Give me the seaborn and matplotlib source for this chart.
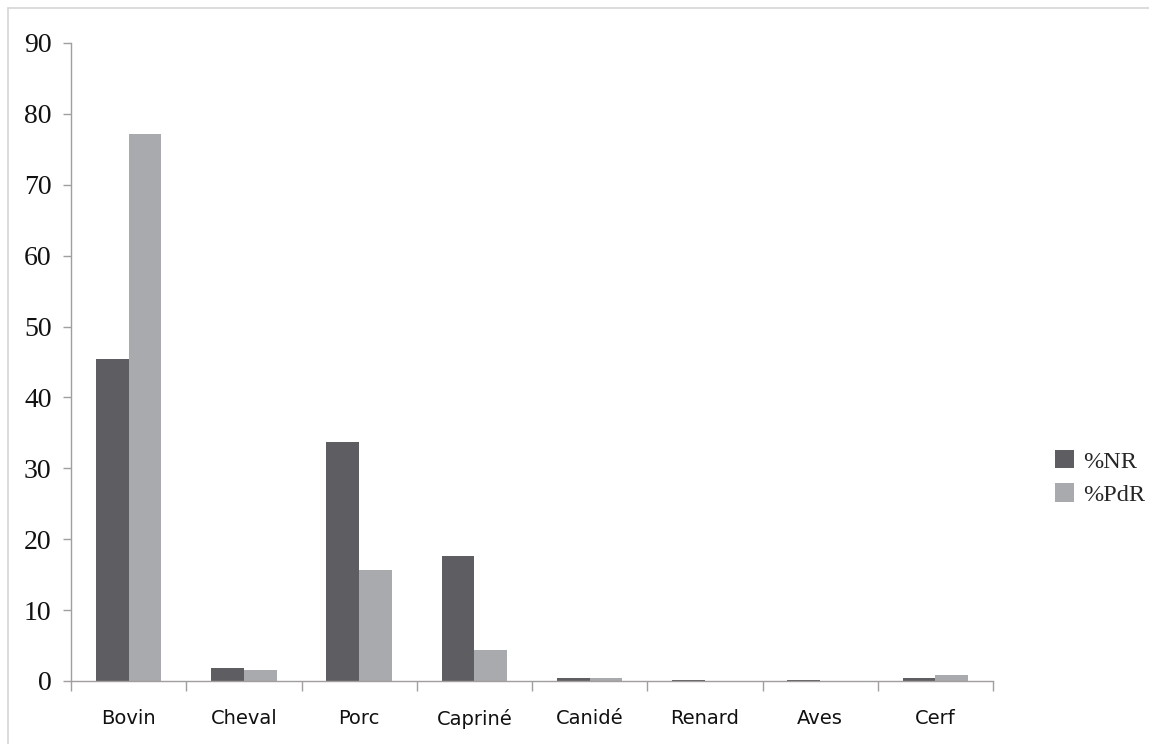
import matplotlib
matplotlib.use("Agg")
import matplotlib.pyplot as plt
from matplotlib.lines import Line2D
from matplotlib.patches import Patch
import pandas as pd
import seaborn as sns

categories = ["Bovin", "Cheval", "Porc", "Capriné", "Canidé", "Renard", "Aves", "Cerf"]
series_names = ["%NR", "%PdR"]
nr_values = [45.4, 1.9, 33.7, 17.6, 0.4, 0.2, 0.2, 0.4]
pdr_values = [77.2, 1.5, 15.6, 4.4, 0.4, 0.05, 0.05, 0.8]
y_ticks = [0, 10, 20, 30, 40, 50, 60, 70, 80, 90]
colors = ["#5e5e62", "#a8aaad"]

df = pd.DataFrame({
    "Espèce": categories * 2,
    "Série": [series_names[0]] * len(categories) + [series_names[1]] * len(categories),
    "Valeur": nr_values + pdr_values,
})

sns.set_theme(style="white")
plt.rcParams["font.family"] = ["DejaVu Sans"]

fig = plt.figure(figsize=(11.49, 7.44), dpi=100)
ax = fig.add_axes([71 / 1149, 1 - 681 / 744, (993 - 71) / 1149, (681 - 43) / 744])

sns.barplot(data=df, x="Espèce", y="Valeur", hue="Série", palette=colors,
            width=0.57, gap=0, saturation=1, ax=ax, legend=False,
            edgecolor="none", linewidth=0)

axis_color = "#a39e9e"
ax.set_xlim(-0.5, len(categories) - 0.5)
ax.set_ylim(0, 90)
ax.set_yticks(y_ticks)
ax.set_yticklabels([str(t) for t in y_ticks], family="Liberation Serif", fontsize=20, color="#111111")
ax.set_xlabel("")
ax.set_ylabel("")
for s in ["top", "right"]:
    ax.spines[s].set_visible(False)
for s in ["left", "bottom"]:
    ax.spines[s].set_color(axis_color)
    ax.spines[s].set_linewidth(1.0)
ax.tick_params(axis="y", left=True, length=6, color=axis_color, width=1, pad=8)

# Category labels at centres, tick marks on the category boundaries
ax.set_xticks(range(len(categories)))
ax.set_xticklabels(categories, fontsize=14, color="#111111")
ax.tick_params(axis="x", bottom=False, pad=14)
ax.set_xticks([i - 0.5 for i in range(len(categories) + 1)], minor=True)
ax.tick_params(axis="x", which="minor", bottom=True, length=7, color=axis_color, width=1)

handles = [Patch(facecolor=c, edgecolor="none") for c in colors]
fig.legend(handles, series_names, loc="center left", bbox_to_anchor=(1038 / 1149, 1 - 478 / 744),
           frameon=False, prop={"family": "Liberation Serif", "size": 17.5},
           borderpad=0.2, handlelength=0.8, handleheight=0.8, handletextpad=0.35, labelspacing=0.45)

# Outer chart frame
fig.add_artist(Line2D([8 / 1149, 1], [1 - 8 / 744, 1 - 8 / 744], color="#d8d4d4", lw=1.2, transform=fig.transFigure))
fig.add_artist(Line2D([8 / 1149, 8 / 1149], [0, 1 - 8 / 744], color="#d8d4d4", lw=1.2, transform=fig.transFigure))

fig.savefig("out.png", dpi=100, facecolor="white")
